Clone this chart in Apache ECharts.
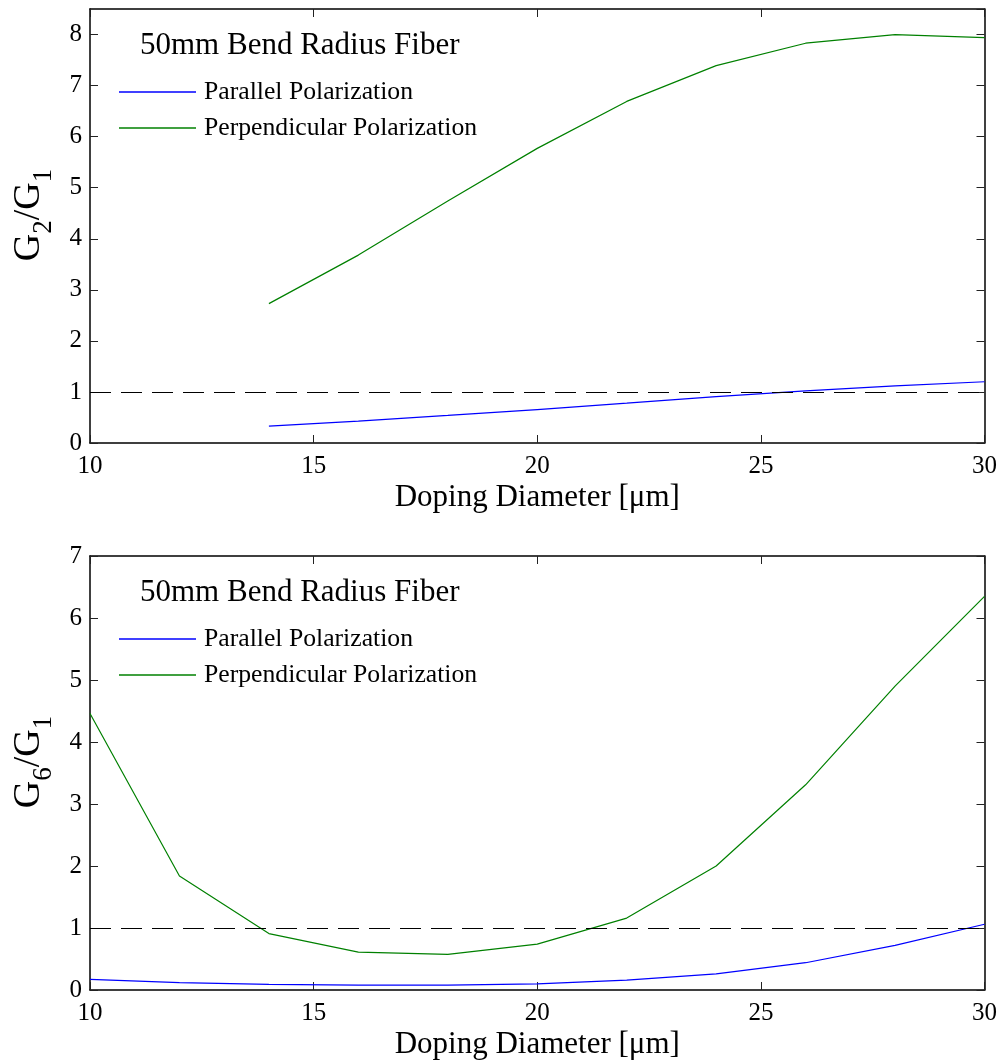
<!DOCTYPE html>
<html>
<head>
<meta charset="utf-8">
<script src="https://cdn.jsdelivr.net/npm/echarts@6/dist/echarts.min.js"></script>
<style>
html,body{margin:0;padding:0;background:#fff;}
#chart{width:1000px;height:1061px;}
</style>
</head>
<body>
<div id="chart"></div>
<script>
// ---- data ----
const titleText = '50mm Bend Radius Fiber';
const seriesNames = ['Parallel Polarization', 'Perpendicular Polarization'];
const xLabel = 'Doping Diameter [μm]';
const threshold = 1;

// top panel: G2/G1
const xTop = [14, 16, 18, 20, 22, 24, 26, 28, 30];
const g2Parallel = [0.33, 0.43, 0.54, 0.655, 0.78, 0.91, 1.02, 1.12, 1.20];
const g2Perpendicular = [2.73, 3.68, 4.74, 5.77, 6.69, 7.39, 7.83, 8.00, 7.94];

// bottom panel: G6/G1
const xBot = [10, 12, 14, 16, 18, 20, 22, 24, 26, 28, 30];
const g6Parallel = [0.17, 0.12, 0.09, 0.08, 0.08, 0.10, 0.16, 0.26, 0.44, 0.72, 1.06];
const g6Perpendicular = [4.46, 1.84, 0.91, 0.61, 0.575, 0.74, 1.16, 2.00, 3.31, 4.90, 6.35];

const xRange = [10, 30], xStep = 5;
const yTopRange = [0, 8.5], yBotRange = [0, 7], yStep = 1;

// ---- styling ----
const FONT = "'Liberation Serif','Times New Roman',serif";
const BLUE = '#0000ff', GREEN = '#008000';
const pair = (xs, ys) => xs.map((x, i) => [x, ys[i]]);

const chart = echarts.init(document.getElementById('chart'), null, {renderer: 'canvas'});

function grid(top) {
  return {left: 90, right: 14.4, top: top, height: 434, show: false};
}
function xAxes(gi) {
  const base = {
    type: 'value', gridIndex: gi, min: xRange[0], max: xRange[1], interval: xStep,
    splitLine: {show: false},
    axisLine: {show: true, onZero: false, lineStyle: {color: '#000', width: 1.5}},
    axisTick: {show: true, inside: true, length: 8, lineStyle: {color: '#222', width: 1}}
  };
  return [
    Object.assign({}, base, {
      position: 'bottom',
      axisLabel: {show: true, margin: 11, color: '#000', fontFamily: FONT, fontSize: 25},
      name: xLabel, nameLocation: 'middle', nameGap: 39,
      nameTextStyle: {color: '#000', fontFamily: FONT, fontSize: 31}
    }),
    Object.assign({}, base, {position: 'top', axisLabel: {show: false}})
  ];
}
function yAxes(gi, range, sub) {
  const base = {
    type: 'value', gridIndex: gi, min: range[0], max: range[1], interval: yStep,
    splitLine: {show: false},
    axisLine: {show: true, onZero: false, lineStyle: {color: '#000', width: 1.5}},
    axisTick: {show: true, inside: true, length: 8, lineStyle: {color: '#222', width: 1}}
  };
  return [
    Object.assign({}, base, {
      position: 'left',
      axisLabel: {show: true, margin: 8, color: '#000', fontFamily: FONT, fontSize: 25, showMaxLabel: range[1] % 1 === 0},
      name: '{g|G}{s|' + sub + '}{g|/G}{s|1}', nameLocation: 'middle', nameGap: 42, nameRotate: 90,
      nameTextStyle: {
        color: '#000', fontFamily: FONT, padding: [0, 0, 0, 22],
        rich: {
          g: {fontFamily: FONT, fontSize: 38, color: '#000', lineHeight: 38, verticalAlign: 'top'},
          s: {fontFamily: FONT, fontSize: 27, color: '#000', lineHeight: 27, verticalAlign: 'top', padding: [20, 0, 0, 0]}
        }
      }
    }),
    Object.assign({}, base, {position: 'right', axisLabel: {show: false}})
  ];
}
function lineSeries(name, data, color, gi) {
  return {
    type: 'line', name: name, data: data, xAxisIndex: gi * 2, yAxisIndex: gi * 2,
    symbol: 'none', showSymbol: false, smooth: false, animation: false,
    lineStyle: {color: color, width: 1.2}, itemStyle: {color: color}
  };
}
function refLine(gi) {
  return {
    type: 'line', name: 'ref' + gi, data: [], xAxisIndex: gi * 2, yAxisIndex: gi * 2,
    symbol: 'none', animation: false,
    markLine: {
      silent: true, symbol: ['none', 'none'], label: {show: false},
      lineStyle: {color: '#000', width: 1.2, type: [21, 10]},
      data: [{yAxis: threshold}], animation: false
    }
  };
}
function legend(top) {
  return {
    data: seriesNames.map(n => ({name: n, icon: 'rect'})),
    orient: 'vertical', left: 119, top: top, padding: 0,
    itemWidth: 77, itemHeight: 1.3, itemGap: 10, selectedMode: false,
    textStyle: {color: '#000', fontFamily: FONT, fontSize: 25.7, lineHeight: 26, padding: [0, 0, 0, 3]}
  };
}

const titleStyle = {color: '#000', fontFamily: FONT, fontSize: 31, fontWeight: 'normal'};
const option = {
  animation: false,
  backgroundColor: '#fff',
  grid: [grid(9), grid(556)],
  xAxis: xAxes(0).concat(xAxes(1)),
  yAxis: yAxes(0, yTopRange, '2').concat(yAxes(1, yBotRange, '6')),
  title: [
    {text: titleText, left: 140, top: 30, padding: 0, textStyle: titleStyle},
    {text: titleText, left: 140, top: 577, padding: 0, textStyle: titleStyle}
  ],
  legend: [legend(79), legend(626)],
  series: [
    lineSeries(seriesNames[0], pair(xTop, g2Parallel), BLUE, 0),
    lineSeries(seriesNames[1], pair(xTop, g2Perpendicular), GREEN, 0),
    refLine(0),
    lineSeries(seriesNames[0], pair(xBot, g6Parallel), BLUE, 1),
    lineSeries(seriesNames[1], pair(xBot, g6Perpendicular), GREEN, 1),
    refLine(1)
  ]
};
chart.setOption(option);
</script>
</body>
</html>
